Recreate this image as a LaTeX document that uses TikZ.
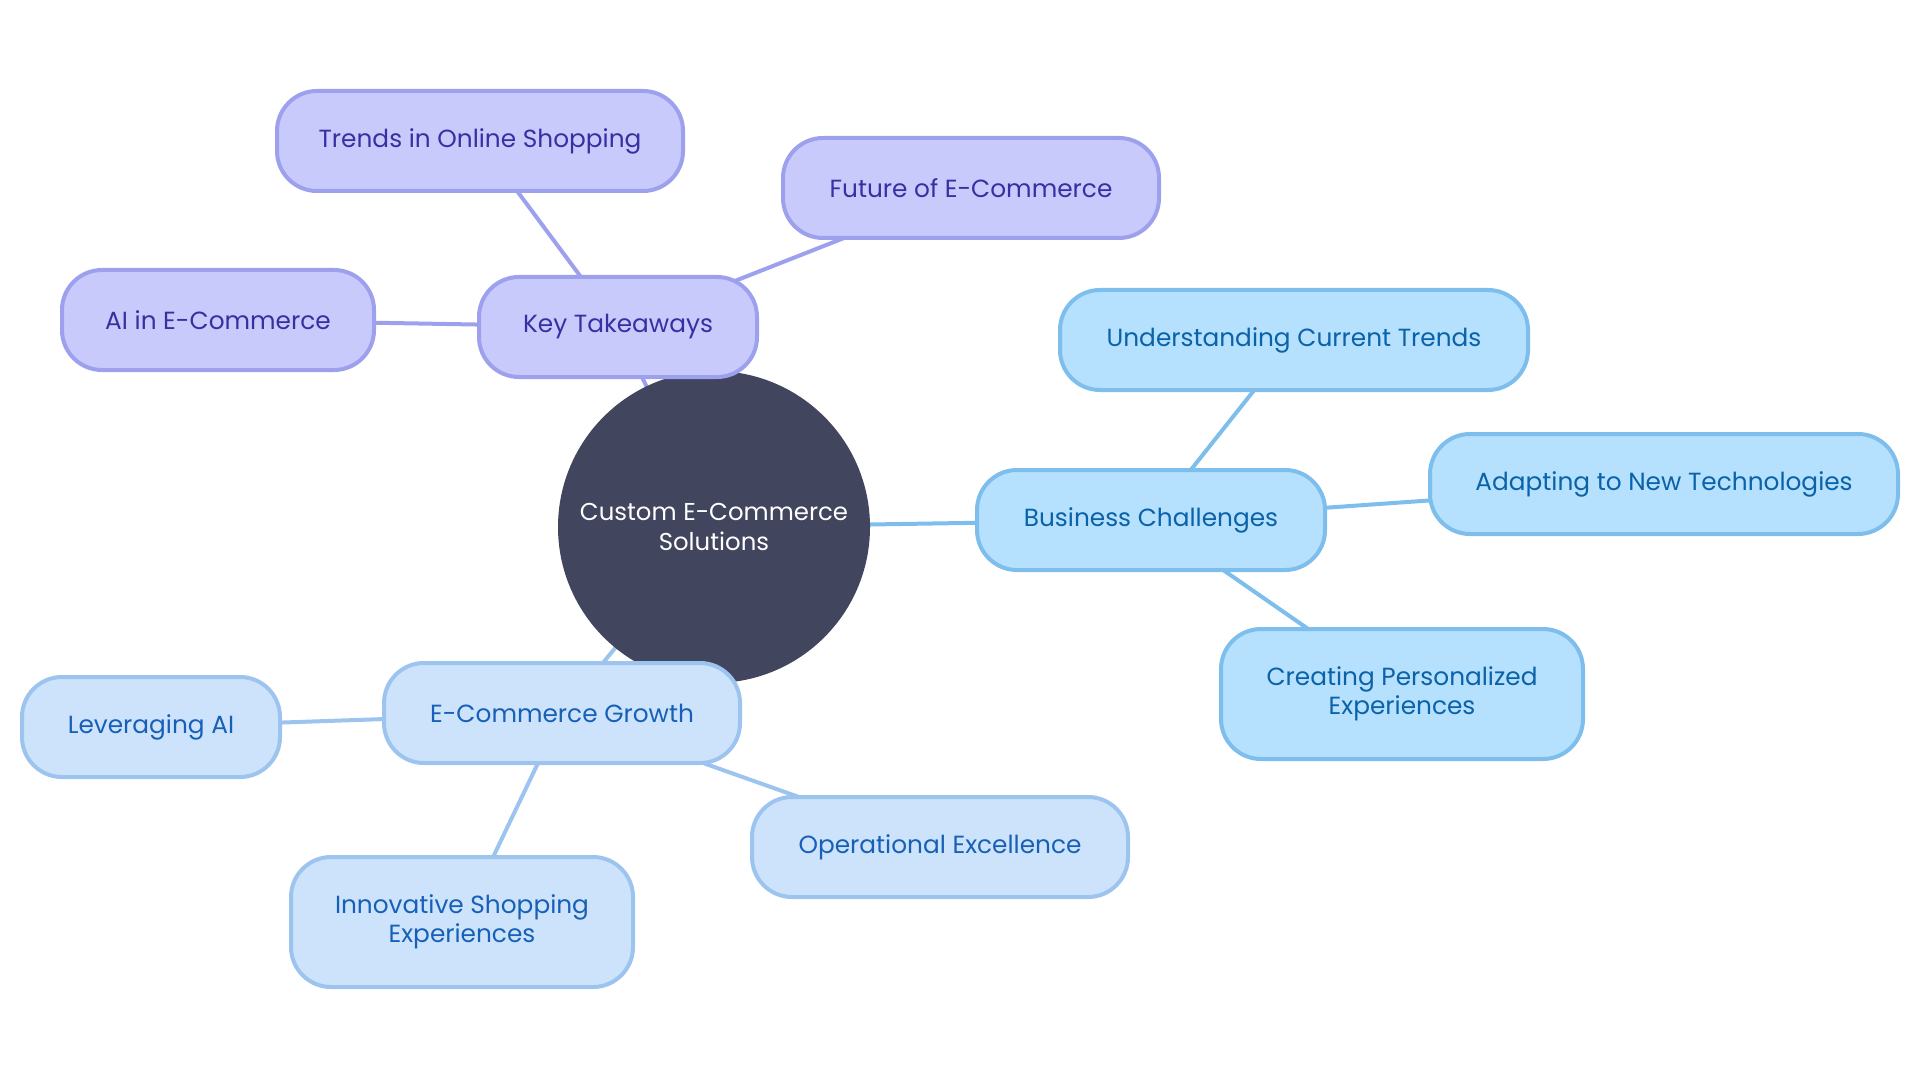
\documentclass[tikz,border=0pt]{standalone}
\usepackage{fontspec}
\setmainfont{Poppins}
\usepackage{xcolor}
\usetikzlibrary{positioning,shapes,calc}
\pgfdeclarelayer{bg}
\pgfsetlayers{bg,main}
\definecolor{hubfill}{RGB}{65,69,94}
\definecolor{kfill}{RGB}{200,202,252}
\definecolor{kline}{RGB}{157,161,237}
\definecolor{ktext}{RGB}{55,48,163}
\definecolor{bfill}{RGB}{181,224,254}
\definecolor{bline}{RGB}{126,190,236}
\definecolor{btext}{RGB}{10,98,168}
\definecolor{gfill}{RGB}{205,227,251}
\definecolor{gline}{RGB}{157,196,238}
\definecolor{gtext}{RGB}{23,96,183}
\tikzset{
  box/.style = {rounded corners = 20pt, line width = 2pt, align = center, minimum height = 50pt, font = \fontsize{12.4}{14.7}\selectfont},
  kbox/.style = {box, fill = kfill, draw = kline, text = ktext},
  bbox/.style = {box, fill = bfill, draw = bline, text = btext},
  gbox/.style = {box, fill = gfill, draw = gline, text = gtext},
  klink/.style = {line width = 2pt, kline},
  blink/.style = {line width = 2pt, bline},
  glink/.style = {line width = 2pt, gline},
}
\begin{document}
\begin{tikzpicture}[x = .5pt, y = -.5pt]
\useasboundingbox (0,0) rectangle (1920,1080);
\node[circle, fill = hubfill, text = white, minimum size = 156pt, align = center, font = \fontsize{12.2}{14.7}\selectfont] (hub) at (714,527) {Custom E-Commerce\\Solutions};
% key takeaways
\node[kbox, minimum width = 139pt] (key) at (618,327) {Key Takeaways};
\node[kbox, minimum width = 203pt] (trends) at (480,141) {Trends in Online Shopping};
\node[kbox, minimum width = 188pt] (future) at (971,188) {Future of E-Commerce};
\node[kbox, minimum width = 156pt] (ai) at (218,320) {AI in E-Commerce};
% business challenges
\node[bbox, minimum width = 174pt] (biz) at (1151,520) {Business Challenges};
\node[bbox, minimum width = 234pt] (current) at (1294,340) {Understanding Current Trends};
\node[bbox, minimum width = 234pt] (adapt) at (1664,484) {Adapting to New Technologies};
\node[bbox, minimum width = 181pt, minimum height = 65pt] (personal) at (1402,694) {Creating Personalized\\Experiences};
% growth
\node[gbox, minimum width = 178pt] (growth) at (562,713) {E-Commerce Growth};
\node[gbox, minimum width = 129pt] (lever) at (151,727) {Leveraging AI};
\node[gbox, minimum width = 171pt, minimum height = 65pt] (innov) at (462,922) {Innovative Shopping\\Experiences};
\node[gbox, minimum width = 188pt] (ops) at (940,847) {Operational Excellence};
\begin{pgfonlayer}{bg}
\draw[klink] (hub.center) -- (key.center);
\draw[klink] (key.center) -- (trends.center);
\draw[klink] (key.center) -- (future.center);
\draw[klink] (key.center) -- (ai.center);
\draw[blink] (hub.center) -- (biz.center);
\draw[blink] (biz.center) -- (current.center);
\draw[blink] (biz.center) -- (adapt.center);
\draw[blink] (biz.center) -- (personal.center);
\draw[glink] (hub.center) -- (growth.center);
\draw[glink] (growth.center) -- (lever.center);
\draw[glink] (growth.center) -- (innov.center);
\draw[glink] (growth.center) -- (ops.center);
\end{pgfonlayer}
\end{tikzpicture}
\end{document}
